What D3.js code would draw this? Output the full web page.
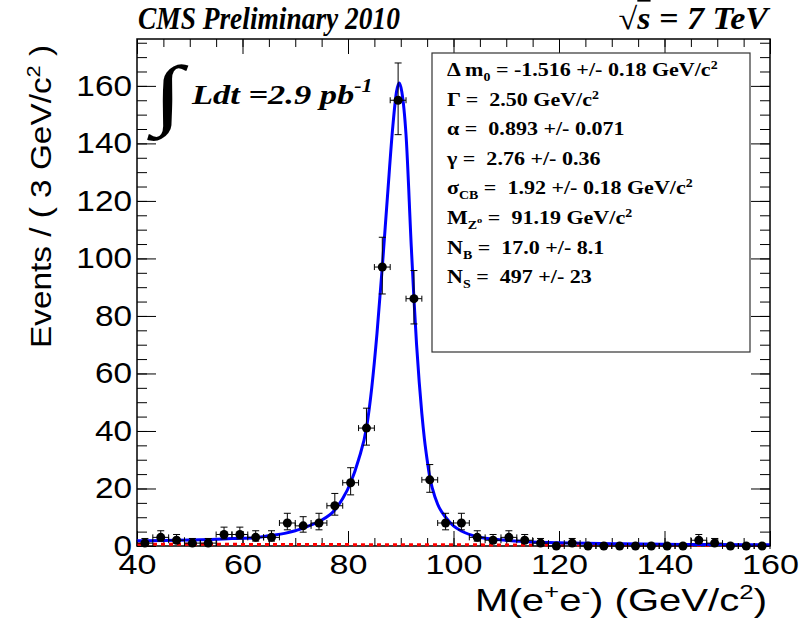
<!DOCTYPE html>
<html>
<head>
<meta charset="utf-8">
<script src="https://cdn.jsdelivr.net/npm/d3@7/dist/d3.min.js"></script>
<style>
  body { margin: 0; background: #fff; }
  text { white-space: pre; }
</style>
</head>
<body>
<svg id="plot" width="800" height="620"></svg>
<script>
// bin centres (3 GeV bins) and event counts
var binCenters = [41.5, 44.5, 47.5, 50.5, 53.5, 56.5, 59.5, 62.5, 65.5, 68.5,
                  71.5, 74.5, 77.5, 80.5, 83.5, 86.5, 89.5, 92.5, 95.5, 98.5,
                  101.5, 104.5, 107.5, 110.5, 113.5, 116.5, 119.5, 122.5, 125.5, 128.5,
                  131.5, 134.5, 137.5, 140.5, 143.5, 146.5, 149.5, 152.5, 155.5, 158.5];
var counts = [1, 3, 2, 1, 1, 4, 4, 3, 3, 8,
              7, 8, 14, 22, 41, 97, 155, 86, 23, 8,
              8, 3, 2, 3, 2, 1, 0, 1, 0, 0,
              0, 0, 0, 0, 0, 2, 1, 0, 0, 0];

// fitted curve (signal + background)
var fitMass  = [40, 45, 50, 54, 58, 62.5, 65, 68, 70, 72, 74.5, 77.5, 79, 80.5, 82, 83.5,
                84.5, 85.5, 86.5, 87.5, 88.5, 89.2, 89.7, 90.2, 91, 92, 92.5, 93, 93.5, 94,
                94.5, 95, 95.5, 96, 97, 98.5, 100, 101.5, 104.5, 107.5, 110.5, 115, 120,
                130, 140, 150, 160];
var fitValue = [1.8, 1.9, 2.1, 2.3, 2.6, 2.9, 3.6, 4.4, 5.3, 6.6, 8.5, 12.5, 16.5, 22, 30, 41,
                55, 74, 97, 122, 146, 158, 161, 158, 143, 104, 86, 70, 57, 46,
                37, 30, 24, 20, 14.5, 10, 7, 5.2, 3.2, 2.4, 1.9, 1.4, 1.1,
                0.8, 0.6, 0.5, 0.45];

// background component (red dashed)
var bkgMass  = [40, 80, 120, 160];
var bkgValue = [0.65, 0.48, 0.35, 0.26];

var xMajor = [40, 60, 80, 100, 120, 140, 160];
var yMajor = [0, 20, 40, 60, 80, 100, 120, 140, 160];

var legendLines = [
  [["\u0394 m", 0], ["0", 1], [" = -1.516 +/- 0.18 GeV/c", 0], ["2", 2]],
  [["\u0393 =  2.50 GeV/c", 0], ["2", 2]],
  [["\u03b1 =  0.893 +/- 0.071", 0]],
  [["\u03b3 =  2.76 +/- 0.36", 0]],
  [["\u03c3", 0], ["CB", 1], [" =  1.92 +/- 0.18 GeV/c", 0], ["2", 2]],
  [["M", 0], ["Z", 1], ["o", 3], [" =  91.19 GeV/c", 0], ["2", 2]],
  [["N", 0], ["B", 1], [" =  17.0 +/- 8.1", 0]],
  [["N", 0], ["S", 1], [" =  497 +/- 23", 0]]
];

var svg = d3.select("#plot");
var x = d3.scaleLinear().domain([40, 160]).range([137, 770]);
var y = d3.scaleLinear().domain([0, 176.3]).range([546, 39]);

var sans = "'Liberation Sans', Arial, Helvetica, sans-serif";
var serif = "'Liberation Serif', 'Times New Roman', serif";

// widen text horizontally, keeping its anchor point where it is
function stretch(sel, k) {
  sel.each(function() {
    var t = d3.select(this);
    var x0 = +t.attr("x") || 0;
    t.attr("transform", "translate(" + (x0 * (1 - k)) + ",0) scale(" + k + ",1)");
  });
}
// squeeze/widen a text so it covers a given width
function fitWidth(sel, w) {
  var bw = sel.node().getBBox().width;
  stretch(sel, w / bw);
}

// poisson-like asymmetric errors
function errLo(n) { return n + 0.5 - Math.sqrt(n + 0.25); }
function errHi(n) { return n + 0.5 + Math.sqrt(n + 0.25); }

// ---- axes ----
var gx = svg.append("g").attr("transform", "translate(0,546)")
  .call(d3.axisBottom(x).tickValues(xMajor).tickSizeInner(-15).tickSizeOuter(0).tickPadding(8).tickFormat(d3.format("d")));
svg.append("g").attr("transform", "translate(0,546)")
  .call(d3.axisBottom(x).tickValues(d3.range(40, 161, 5)).tickSizeInner(-8).tickSizeOuter(0).tickFormat(""));
svg.append("g").attr("transform", "translate(0,39)")
  .call(d3.axisTop(x).tickValues(xMajor).tickSizeInner(-15).tickSizeOuter(0).tickFormat(""));
svg.append("g").attr("transform", "translate(0,39)")
  .call(d3.axisTop(x).tickValues(d3.range(40, 161, 5)).tickSizeInner(-8).tickSizeOuter(0).tickFormat(""));

var gy = svg.append("g").attr("transform", "translate(137,0)")
  .call(d3.axisLeft(y).tickValues(yMajor).tickSizeInner(-19).tickSizeOuter(0).tickPadding(5));
svg.append("g").attr("transform", "translate(137,0)")
  .call(d3.axisLeft(y).tickValues(d3.range(0, 176, 5)).tickSizeInner(-10).tickSizeOuter(0).tickFormat(""));
svg.append("g").attr("transform", "translate(770,0)")
  .call(d3.axisRight(y).tickValues(yMajor).tickSizeInner(-19).tickSizeOuter(0).tickFormat(""));
svg.append("g").attr("transform", "translate(770,0)")
  .call(d3.axisRight(y).tickValues(d3.range(0, 176, 5)).tickSizeInner(-10).tickSizeOuter(0).tickFormat(""));

svg.selectAll(".domain").remove();
svg.selectAll(".tick line").attr("stroke", "#000").attr("stroke-width", 1);

gx.selectAll("text").attr("font-size", 28).attr("font-family", sans).attr("fill", "#000");
stretch(gx.selectAll("text"), 1.22);
gy.selectAll("text").attr("font-size", 29).attr("font-family", sans).attr("fill", "#000");
stretch(gy.selectAll("text"), 1.15);

// frame
svg.append("rect").attr("x", 137).attr("y", 39).attr("width", 633).attr("height", 507)
  .attr("fill", "none").attr("stroke", "#000").attr("stroke-width", 1.5);

// ---- background (red dashed) ----
svg.append("path")
  .datum(bkgMass.map(function(m, i) { return [m, bkgValue[i]]; }))
  .attr("fill", "none").attr("stroke", "#ff0000").attr("stroke-width", 3)
  .attr("stroke-dasharray", "4,4")
  .attr("d", d3.line().x(function(d) { return x(d[0]); }).y(function(d) { return y(d[1]); }).curve(d3.curveMonotoneX));

// ---- data points with error bars ----
var pts = svg.append("g");
binCenters.forEach(function(c, i) {
  var n = counts[i];
  var cx = x(c), cy = y(n);
  pts.append("line").attr("x1", x(c - 1.5)).attr("x2", x(c + 1.5)).attr("y1", cy).attr("y2", cy)
    .attr("stroke", "#000").attr("stroke-width", 1);
  pts.append("line").attr("x1", x(c - 1.5)).attr("x2", x(c - 1.5)).attr("y1", cy - 3).attr("y2", cy + 3)
    .attr("stroke", "#000").attr("stroke-width", 1);
  pts.append("line").attr("x1", x(c + 1.5)).attr("x2", x(c + 1.5)).attr("y1", cy - 3).attr("y2", cy + 3)
    .attr("stroke", "#000").attr("stroke-width", 1);
  if (n > 0) {
    var yl = y(errLo(n)), yh = y(errHi(n));
    pts.append("line").attr("x1", cx).attr("x2", cx).attr("y1", yl).attr("y2", yh)
      .attr("stroke", "#000").attr("stroke-width", 1);
    pts.append("line").attr("x1", cx - 3.5).attr("x2", cx + 3.5).attr("y1", yl).attr("y2", yl)
      .attr("stroke", "#000").attr("stroke-width", 1);
    pts.append("line").attr("x1", cx - 3.5).attr("x2", cx + 3.5).attr("y1", yh).attr("y2", yh)
      .attr("stroke", "#000").attr("stroke-width", 1);
  }
});

// ---- fit curve ----
svg.append("path")
  .datum(fitMass.map(function(m, i) { return [m, fitValue[i]]; }))
  .attr("fill", "none").attr("stroke", "#0000ff").attr("stroke-width", 3)
  .attr("d", d3.line().x(function(d) { return x(d[0]); }).y(function(d) { return y(d[1]); }).curve(d3.curveMonotoneX));

pts.raise();
pts.selectAll("circle").data(binCenters).enter().append("circle")
  .attr("cx", function(d) { return x(d); })
  .attr("cy", function(d, i) { return y(counts[i]); })
  .attr("r", 4.5).attr("fill", "#000");

// ---- axis titles ----
var xt = svg.append("text").attr("x", 767).attr("y", 611).attr("text-anchor", "end")
  .attr("font-family", sans).attr("font-size", 31).attr("fill", "#000");
xt.append("tspan").text("M(e");
xt.append("tspan").attr("dy", -12).attr("font-size", 20).text("+");
xt.append("tspan").attr("dy", 12).text("e");
xt.append("tspan").attr("dy", -12).attr("font-size", 20).text("-");
xt.append("tspan").attr("dy", 12).text(") (GeV/c");
xt.append("tspan").attr("dy", -12).attr("font-size", 20).text("2");
xt.append("tspan").attr("dy", 12).text(")");
fitWidth(xt, 292);

var ytg = svg.append("g").attr("transform", "translate(51,348) rotate(-90)");
var yt = ytg.append("text").attr("x", 0).attr("y", 0)
  .attr("font-family", sans).attr("font-size", 29).attr("fill", "#000");
yt.append("tspan").text("Events / ( 3 GeV/c");
yt.append("tspan").attr("dy", -11).attr("font-size", 19).text("2");
yt.append("tspan").attr("dy", 11).text(" )");
stretch(yt, 1.15);

// ---- header ----
var title = svg.append("text").attr("x", 138).attr("y", 29)
  .attr("font-family", serif).attr("font-weight", "bold").attr("font-style", "italic")
  .attr("font-size", 31).attr("fill", "#000").text("CMS Preliminary 2010");
fitWidth(title, 262);

var sq = svg.append("text").attr("x", 768).attr("y", 29).attr("text-anchor", "end")
  .attr("font-family", serif).attr("font-weight", "bold").attr("font-style", "italic")
  .attr("font-size", 31).attr("fill", "#000");
sq.append("tspan").attr("font-style", "normal").attr("font-weight", "normal").text("\u221a");
sq.append("tspan").attr("text-decoration", "overline").text("s");
sq.append("tspan").text(" = 7 TeV");
fitWidth(sq, 152);

// integrated luminosity
var integ = svg.append("text").attr("x", 152).attr("y", 120)
  .attr("font-family", serif).attr("font-weight", "bold").attr("font-style", "italic")
  .attr("font-size", 78).attr("fill", "#000").text("\u222b");
stretch(integ, 1.4);
var lum = svg.append("text").attr("x", 192).attr("y", 104)
  .attr("font-family", serif).attr("font-weight", "bold").attr("font-style", "italic")
  .attr("font-size", 28).attr("fill", "#000");
lum.append("tspan").text("Ldt =2.9 pb");
lum.append("tspan").attr("dy", -12).attr("font-size", 18).text("-1");
fitWidth(lum, 182);

// ---- parameter box ----
svg.append("rect").attr("x", 432).attr("y", 53).attr("width", 318).attr("height", 299)
  .attr("fill", "#fff").attr("stroke", "#333").attr("stroke-width", 1.2);

var shifts = [0, 5, -7, -1];
var sizes = [19, 12, 12, 9];
legendLines.forEach(function(line, i) {
  var t = svg.append("text").attr("x", 447).attr("y", 76 + i * 29.6)
    .attr("font-family", serif).attr("font-weight", "bold").attr("font-size", 19).attr("fill", "#000");
  var cur = 0;
  line.forEach(function(seg) {
    var k = seg[1];
    t.append("tspan").attr("dy", shifts[k] - cur).attr("font-size", sizes[k]).text(seg[0]);
    cur = shifts[k];
  });
  stretch(t, 1.16);
});
</script>
</body>
</html>
